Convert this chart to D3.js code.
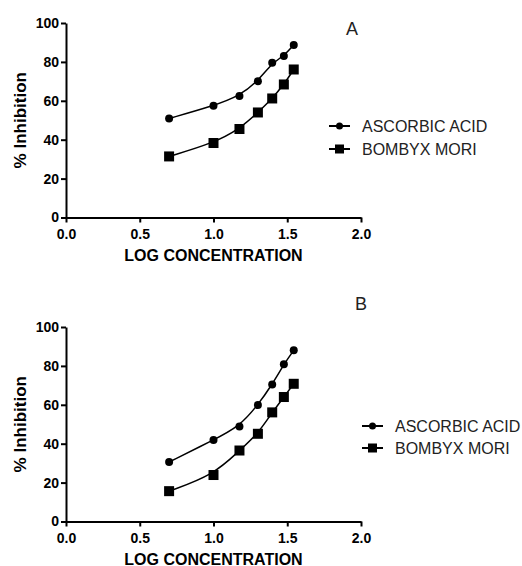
<!DOCTYPE html>
<html>
<head>
<meta charset="utf-8">
<script src="https://cdn.jsdelivr.net/npm/d3@7"></script>
<style>
  body { margin: 0; background: #fff; }
  svg { font-family: "Liberation Sans", Arial, sans-serif; }
  .axis path, .axis line { stroke: #000; stroke-width: 2; }
  .axis text { font-size: 14px; font-weight: bold; fill: #000; }
</style>
</head>
<body>
<div id="chart"></div>
<script>
var logConc = [0.699, 1.0, 1.176, 1.301, 1.398, 1.477, 1.544];

// panel A
var ascorbicA = [50.9, 57.4, 62.5, 70.1, 79.5, 83.0, 88.7];
var bombyxA = [31.4, 38.3, 45.5, 54.0, 61.2, 68.4, 76.1];
// panel B
var ascorbicB = [30.6, 41.9, 48.9, 59.9, 70.5, 80.8, 88.0];
var bombyxB = [15.6, 23.9, 36.5, 45.1, 56.1, 64.0, 70.8];

var seriesNames = ["ASCORBIC ACID", "BOMBYX MORI"];
var xTicks = [0.0, 0.5, 1.0, 1.5, 2.0];
var yTicks = [0, 20, 40, 60, 80, 100];

var svg = d3.select("#chart")
  .append("svg")
    .attr("width", 522)
    .attr("height", 566);

var panels = [
  {label: "A", top: 23, series: [ascorbicA, bombyxA], legX: 329, legY: 126, legGap: 23, labelX: 352, labelY: 35},
  {label: "B", top: 327, series: [ascorbicB, bombyxB], legX: 362, legY: 426, legGap: 22, labelX: 361, labelY: 310}
];

var width = 295, height = 194.5;
var x = d3.scaleLinear().domain([0, 2]).range([0, width]);
var y = d3.scaleLinear().domain([0, 100]).range([height, 0]);

var line = d3.line()
  .x(function(d) { return x(d[0]); })
  .y(function(d) { return y(d[1]); })
  .curve(d3.curveBasis);

function marker(sel, type, size) {
  if (type === 0) {
    sel.append("circle").attr("r", size / 2).attr("fill", "#000");
  } else {
    sel.append("rect")
      .attr("x", -size / 2 - 0.5).attr("y", -size / 2 - 0.5)
      .attr("width", size + 1).attr("height", size + 1)
      .attr("fill", "#000");
  }
}

panels.forEach(function(p) {
  var g = svg.append("g")
    .attr("transform", "translate(66," + p.top + ")");

  g.append("g")
    .attr("class", "axis")
    .attr("transform", "translate(0," + height + ")")
    .call(d3.axisBottom(x).tickValues(xTicks).tickSize(5).tickPadding(7).tickSizeOuter(0)
      .tickFormat(d3.format(".1f")));

  g.append("g")
    .attr("class", "axis")
    .call(d3.axisLeft(y).tickValues(yTicks).tickSize(5).tickPadding(2).tickSizeOuter(0));

  g.append("text")
    .attr("x", x(1.0))
    .attr("y", height + 43)
    .attr("text-anchor", "middle")
    .style("font-size", "16px")
    .style("font-weight", "bold")
    .text("LOG CONCENTRATION");

  g.append("text")
    .attr("transform", "rotate(-90)")
    .attr("x", -height / 2)
    .attr("y", -40)
    .attr("text-anchor", "middle")
    .style("font-size", "17px")
    .style("font-weight", "bold")
    .text("% Inhibition");

  p.series.forEach(function(vals, i) {
    var pts = logConc.map(function(c, j) { return [c, vals[j]]; });
    g.append("path")
      .datum(pts)
      .attr("fill", "none")
      .attr("stroke", "#000")
      .attr("stroke-width", 1.5)
      .attr("d", line);

    g.selectAll(".pt" + i)
      .data(pts)
      .enter().append("g")
        .attr("class", "pt" + i)
        .attr("transform", function(d) { return "translate(" + x(d[0]) + "," + y(d[1]) + ")"; })
        .each(function() { marker(d3.select(this), i, i === 0 ? 8 : 9); });
  });

  // legend
  var leg = svg.append("g");
  seriesNames.forEach(function(name, i) {
    var row = leg.append("g")
      .attr("transform", "translate(" + p.legX + "," + (p.legY + i * p.legGap) + ")");
    row.append("line")
      .attr("x1", 0).attr("x2", 21)
      .attr("stroke", "#000").attr("stroke-width", 2);
    var m = row.append("g").attr("transform", "translate(10.5,0)");
    marker(m, i, i === 0 ? 7 : 8);
    row.append("text")
      .attr("x", 33)
      .attr("y", 6)
      .style("font-size", "16px")
      .style("fill", "#222")
      .text(name);
  });

  svg.append("text")
    .attr("x", p.labelX)
    .attr("y", p.labelY)
    .attr("text-anchor", "middle")
    .style("font-size", "18px")
    .style("fill", "#222")
    .text(p.label);
});
</script>
</body>
</html>
